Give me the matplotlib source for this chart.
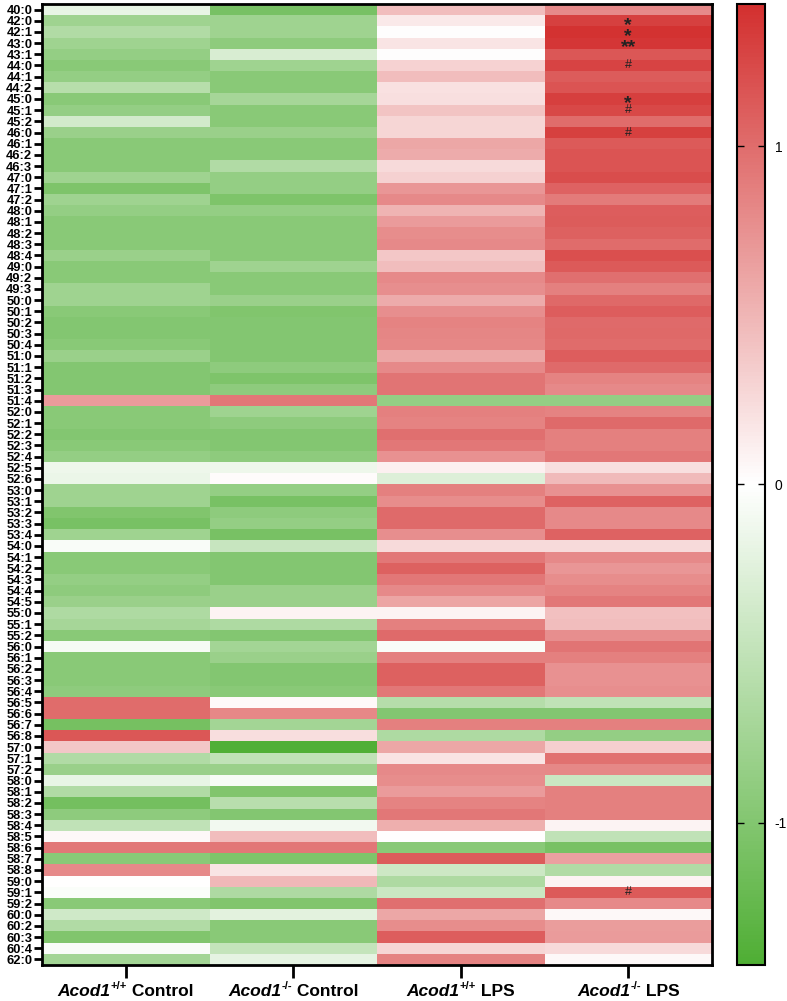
import numpy as np
import matplotlib.pyplot as plt
from matplotlib.colors import LinearSegmentedColormap
from matplotlib.transforms import offset_copy

# --- data ---
lipids = ["40:0", "42:0", "42:1", "43:0", "43:1", "44:0", "44:1", "44:2", "45:0", "45:1",
          "45:2", "46:0", "46:1", "46:2", "46:3", "47:0", "47:1", "47:2", "48:0", "48:1",
          "48:2", "48:3", "48:4", "49:0", "49:2", "49:3", "50:0", "50:1", "50:2", "50:3",
          "50:4", "51:0", "51:1", "51:2", "51:3", "51:4", "52:0", "52:1", "52:2", "52:3",
          "52:4", "52:5", "52:6", "53:0", "53:1", "53:2", "53:3", "53:4", "54:0", "54:1",
          "54:2", "54:3", "54:4", "54:5", "55:0", "55:1", "55:2", "56:0", "56:1", "56:2",
          "56:3", "56:4", "56:5", "56:6", "56:7", "56:8", "57:0", "57:1", "57:2", "58:0",
          "58:1", "58:2", "58:3", "58:4", "58:5", "58:6", "58:7", "58:8", "59:0", "59:1",
          "59:2", "60:0", "60:2", "60:3", "60:4", "62:0"]

wt_ctrl = [-0.18, -0.77, -0.63, -0.77, -0.86, -0.95, -0.86, -0.58, -0.95, -0.86,
           -0.36, -0.81, -0.95, -0.95, -0.95, -0.77, -1.04, -0.77, -0.86, -0.95,
           -0.95, -0.95, -0.81, -0.95, -0.95, -0.77, -0.77, -0.95, -0.99, -0.99,
           -0.95, -0.81, -0.99, -0.99, -0.99, 0.68, -0.95, -0.95, -0.99, -0.95,
           -0.86, -0.14, -0.16, -0.77, -0.77, -1.01, -1.08, -0.77, -0.05, -0.95,
           -0.95, -0.86, -0.90, -0.81, -0.65, -0.72, -0.95, -0.07, -0.95, -0.95,
           -0.95, -0.90, 1.00, 1.00, -1.10, 1.15, 0.38, -0.63, -0.81, -0.18,
           -0.63, -1.12, -0.90, -0.50, 0.05, 0.93, -0.95, 0.80, 0.00, -0.04,
           -0.95, -0.38, -0.63, -1.01, -0.05, -0.74]

ko_ctrl = [-1.08, -0.77, -0.77, -0.90, -0.32, -0.77, -0.95, -0.95, -0.72, -0.95,
           -0.95, -0.81, -0.95, -0.95, -0.63, -0.86, -0.86, -1.04, -0.86, -0.95,
           -0.95, -0.95, -0.95, -0.77, -0.95, -0.95, -0.81, -1.01, -0.99, -0.99,
           -0.99, -0.99, -0.90, -1.04, -0.90, 0.93, -0.77, -0.90, -0.99, -0.99,
           -0.90, -0.14, 0.03, -0.86, -1.08, -0.90, -0.86, -1.08, -0.45, -0.99,
           -0.99, -0.99, -0.81, -0.81, 0.08, -0.65, -0.99, -0.74, -0.81, -0.99,
           -0.99, -0.95, 0.04, 0.82, -0.74, 0.23, -1.40, -0.50, -0.81, -0.06,
           -1.01, -0.57, -0.99, -0.11, 0.45, 0.93, -1.04, 0.18, 0.48, -0.65,
           -1.01, -0.23, -0.95, -0.95, -0.47, -0.20]

wt_lps = [0.45, 0.15, 0.02, 0.18, 0.02, 0.30, 0.45, 0.20, 0.22, 0.40,
          0.28, 0.28, 0.60, 0.57, 0.25, 0.32, 0.72, 0.80, 0.52, 0.68,
          0.78, 0.80, 0.38, 0.45, 0.80, 0.77, 0.57, 0.77, 0.85, 0.83,
          0.82, 0.60, 0.80, 0.95, 0.95, -0.86, 0.87, 0.85, 0.98, 0.93,
          0.75, 0.10, -0.27, 0.87, 0.78, 1.02, 1.02, 0.77, 0.25, 0.93,
          1.08, 0.93, 0.80, 0.62, 0.08, 0.87, 1.02, -0.05, 0.87, 1.08,
          1.08, 0.93, -0.59, -0.99, 0.87, -0.65, 0.60, 0.18, 0.80, 0.78,
          0.68, 0.85, 0.93, 0.55, 0.00, -0.95, 1.12, -0.41, -0.65, -0.43,
          0.98, 0.60, 0.78, 1.10, 0.28, 0.85]

ko_lps = [0.80, 1.30, 1.40, 1.37, 1.15, 1.28, 1.12, 1.17, 1.32, 1.25,
          1.00, 1.30, 1.13, 1.17, 1.17, 1.22, 1.07, 0.90, 1.10, 1.12,
          1.08, 1.00, 1.20, 1.13, 0.98, 0.87, 1.03, 1.10, 1.02, 1.03,
          1.00, 1.10, 1.02, 0.85, 0.80, -0.86, 0.85, 1.02, 0.87, 0.87,
          0.93, 0.22, 0.47, 0.75, 1.07, 0.80, 0.80, 1.07, 0.25, 0.80,
          0.72, 0.78, 0.85, 0.93, 0.43, 0.45, 0.77, 0.95, 0.87, 0.75,
          0.75, 0.77, -0.50, -0.99, 0.87, -0.86, 0.33, 0.97, 0.82, -0.43,
          0.87, 0.87, 0.87, 0.08, -0.50, -1.08, 0.65, -0.63, 0.08, 1.13,
          0.80, 0.05, 0.67, 0.68, 0.25, 0.05]

# significance marks in the last column
marks = {"42:0": "*", "42:1": "*", "43:0": "**", "44:0": "#", "45:0": "*",
         "45:1": "#", "46:0": "#", "59:1": "#"}

genotypes = ["+/+", "-/-", "+/+", "-/-"]
conditions = ["Control", "Control", "LPS", "LPS"]

# --- figure ---
plt.rcParams['font.family'] = ['Liberation Sans Narrow', 'Liberation Sans', 'DejaVu Sans']

cmap = LinearSegmentedColormap.from_list('gwr', ['#4fae34', '#ffffff', '#d3302f'])
vlim = 1.42

data = np.array([wt_ctrl, ko_ctrl, wt_lps, ko_lps]).T

fig = plt.figure(figsize=(7.87, 10.01), dpi=100)
ax = fig.add_axes([0.0534, 0.036, 0.8513, 0.96])
cax = fig.add_axes([0.9365, 0.036, 0.0355, 0.96])

im = ax.pcolormesh(data, cmap=cmap, vmin=-vlim, vmax=vlim)
ax.set_xlim(0, 4)
ax.set_ylim(len(lipids), 0)

ax.set_yticks(np.arange(len(lipids)) + 0.5)
ax.set_yticklabels(lipids, fontsize=9.3, fontweight='bold')
ax.set_xticks(np.arange(4) + 0.5)
ax.set_xticklabels([])
ax.tick_params(axis='y', length=6, width=2, pad=1)
ax.tick_params(axis='x', length=9, width=2)
for sp in ax.spines.values():
    sp.set_linewidth(2)

for i, lip in enumerate(lipids):
    if lip in marks:
        s = marks[lip]
        if '*' in s:
            ax.text(3.5, i + 0.5 + 0.4, s, ha='center', va='center', fontsize=14,
                    fontweight='bold', color='#222222', family='Liberation Sans')
        else:
            ax.text(3.5, i + 0.5, s, ha='center', va='center', fontsize=9,
                    color='#222222', family='Liberation Sans')

# x labels: italic gene name + superscript genotype + condition
xtrans = ax.get_xaxis_transform()
parts = []
for i in range(4):
    t1 = ax.text(i + 0.5, 0, "Acod1", transform=xtrans, ha='left', va='bottom',
                 fontsize=12.5, fontweight='bold', style='italic', clip_on=False)
    t2 = ax.annotate(genotypes[i], xy=(1, 0.5), xycoords=t1, ha='left', va='bottom',
                     fontsize=8, fontweight='bold')
    t3 = ax.annotate(" " + conditions[i], xy=(1, 0), xycoords=(t2, t1), ha='left',
                     va='bottom', fontsize=12.5, fontweight='bold')
    parts.append((t1, t2, t3))

fig.canvas.draw()
for t1, t2, t3 in parts:
    w = t3.get_window_extent().x1 - t1.get_window_extent().x0
    t1.set_transform(offset_copy(xtrans, fig=fig, x=-w / 2, y=-34, units='dots'))

cb = fig.colorbar(im, cax=cax, ticks=[-1, 0, 1])
cb.ax.set_yticklabels(['-1', '0', '1'], fontsize=10, family='Liberation Sans')
cb.ax.tick_params(length=5, width=1, direction='in', left=True, right=True, pad=7)
cb.outline.set_linewidth(1.5)

plt.savefig('out.png', dpi=100)
